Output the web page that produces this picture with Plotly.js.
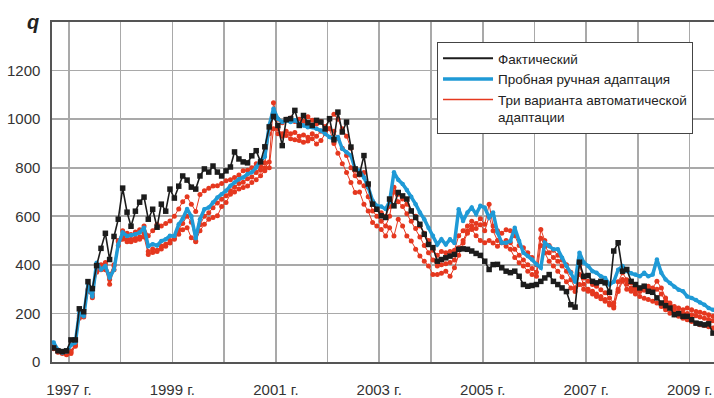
<!DOCTYPE html>
<html>
<head>
<meta charset="utf-8">
<script src="https://cdn.plot.ly/plotly-3.0.1.min.js"></script>
<style>
html,body{margin:0;padding:0;background:#ffffff;}
#chart{width:714px;height:398px;}
</style>
</head>
<body>
<div id="chart"></div>
<script>
// Monthly series, first month = August 1996
const startYear = 1996;
const startMonth = 8;
const gridYears = [1997,1998,1999,2000,2001,2002,2003,2004,2005,2006,2007,2008,2009];
const labelYears = [1997,1999,2001,2003,2005,2007,2009];
const seriesNames = ['Фактический', 'Пробная ручная адаптация', 'Три варианта автоматической<br>адаптации'];

const actual = [
  61, 58, 46, 43, 46,
  91, 91, 219, 207, 331, 302, 397, 468, 530, 422, 517, 588,
  716, 617, 559, 621, 658, 679, 588, 629, 555, 650, 621, 712,
  675, 724, 766, 749, 720, 712, 766, 795, 782, 807, 782, 766,
  787, 803, 865, 836, 824, 820, 849, 870, 824, 886, 968, 1011,
  974, 891, 998, 1002, 1036, 974, 1015, 985, 974, 995, 988, 960,
  1002, 915, 1029, 947, 988, 885, 795, 774, 850, 733, 650, 629,
  602, 595, 671, 643, 698, 684, 671, 622, 595, 567, 526, 484,
  471, 415, 422, 429, 436, 443, 464, 466, 464, 457, 447, 439,
  415, 381, 401, 402, 388, 374, 368, 374, 353, 319, 312, 315,
  319, 332, 346, 360, 332, 319, 305, 290, 236, 226, 411, 353,
  356, 332, 326, 332, 326, 287, 457, 491, 374, 381, 332, 319,
  305, 312, 291, 287, 264, 243, 232, 222, 195, 199, 188, 188,
  174, 160, 157, 153, 157, 119
];

const manual = [
  84, 80, 50, 39, 43,
  70, 80, 202, 188, 319, 270, 409, 381, 395, 347, 381, 484,
  533, 519, 522, 526, 533, 553, 477, 485, 480, 498, 505, 520,
  519, 567, 590, 630, 600, 510, 588, 629, 636, 657, 677, 691,
  705, 726, 739, 753, 760, 774, 781, 801, 830, 845, 974, 1043,
  1002, 988, 995, 988, 995, 981, 974, 967, 967, 960, 953, 940,
  926, 919, 926, 878, 864, 850, 795, 788, 760, 720, 664, 643,
  640, 630, 660, 781, 750, 733, 708, 680, 650, 616, 588, 553,
  520, 484, 505, 484, 505, 490, 629, 581, 616, 636, 609, 643,
  636, 595, 616, 533, 491, 491, 498, 553, 498, 450, 436, 422,
  402, 388, 491, 477, 464, 464, 429, 395, 367, 330, 450, 410,
  395, 374, 367, 353, 346, 319, 330, 380, 395, 375, 365, 360,
  353, 367, 353, 360, 422, 367, 340, 325, 310, 298, 291, 270,
  264, 255, 245, 236, 222, 215
];

const auto1 = [
  70, 65, 45, 40, 35,
  45, 75, 190, 195, 300, 280, 380, 400, 410, 360, 400, 500,
  540, 530, 525, 535, 545, 560, 520, 540, 567, 560, 570, 581,
  600, 630, 660, 680, 650, 620, 690, 705, 715, 725, 726, 735,
  746, 750, 760, 770, 788, 790, 800, 816, 790, 800, 824, 1067,
  1000, 985, 1000, 1005, 990, 1000, 990, 1010, 995, 980, 990, 970,
  1000, 1020, 1000, 960, 930, 880, 790, 770, 780, 720, 660, 630,
  615, 600, 640, 720, 691, 671, 650, 622, 600, 560, 530, 500,
  460, 440, 455, 450, 455, 460, 520, 540, 560, 580, 570, 590,
  567, 650, 560, 540, 530, 545, 540, 520, 480, 470, 450, 430,
  400, 546, 500, 480, 460, 440, 420, 400, 370, 335, 395, 346,
  332, 319, 312, 298, 285, 264, 243, 330, 367, 339, 326, 305,
  298, 312, 312, 305, 332, 305, 264, 243, 229, 222, 215, 222,
  215, 208, 205, 201, 195, 188
];

const auto2 = [
  65, 60, 42, 38, 32,
  40, 70, 185, 190, 295, 270, 375, 395, 400, 340, 395, 495,
  515, 505, 505, 510, 515, 530, 455, 465, 460, 478, 485, 500,
  505, 545, 570, 600, 575, 495, 565, 600, 615, 635, 655, 670,
  685, 705, 720, 735, 740, 755, 762, 780, 805, 820, 940, 1020,
  960, 940, 950, 940, 945, 930, 935, 925, 940, 930, 950, 945,
  960, 950, 920, 880, 850, 800, 767, 740, 726, 680, 622, 600,
  580, 560, 600, 700, 660, 640, 610, 580, 550, 515, 480, 450,
  420, 395, 400, 405, 410, 420, 470, 500, 540, 560, 550, 565,
  540, 600, 540, 500, 491, 500, 491, 464, 440, 420, 400, 385,
  370, 510, 477, 450, 430, 415, 395, 374, 339, 305, 360, 320,
  300, 291, 280, 270, 257, 243, 230, 300, 340, 320, 305, 295,
  290, 295, 300, 290, 300, 280, 250, 230, 215, 205, 200, 200,
  195, 190, 185, 180, 175, 170
];

const auto3 = [
  60, 55, 40, 35, 30,
  35, 65, 180, 185, 290, 265, 370, 380, 380, 320, 380, 480,
  505, 495, 495, 500, 505, 515, 443, 451, 455, 465, 477, 490,
  510, 526, 545, 553, 512, 498, 540, 567, 588, 595, 602, 640,
  657, 691, 700, 712, 719, 725, 739, 750, 767, 788, 800, 960,
  940, 930, 933, 919, 915, 912, 905, 910, 919, 898, 912, 940,
  960, 900, 860, 816, 780, 739, 698, 700, 650, 622, 574, 560,
  546, 519, 553, 519, 588, 560, 519, 498, 464, 436, 415, 395,
  360, 360, 365, 374, 353, 388, 440, 490, 530, 546, 520, 500,
  491, 500, 490, 477, 491, 477, 464, 430, 409, 395, 374, 360,
  353, 480, 450, 415, 395, 374, 350, 330, 305, 290, 319, 300,
  291, 280, 270, 260, 250, 235, 222, 290, 332, 300, 291, 280,
  270, 262, 257, 250, 243, 229, 215, 201, 195, 188, 180, 174,
  167, 160, 153, 150, 145, 140
];

const yTicks = [0, 200, 400, 600, 800, 1000, 1200];

function monthDates(n) {
  const out = [];
  for (let i = 0; i < n; i++) {
    const m0 = startMonth - 1 + i;
    const y = startYear + Math.floor(m0 / 12);
    const m = (m0 % 12) + 1;
    out.push(y + '-' + String(m).padStart(2, '0') + '-15');
  }
  return out;
}

const BLACK = '#1c1c1c';
const BLUE = '#1f9ad6';
const RED = '#e5381f';

function redTrace(vals) {
  return {
    x: monthDates(vals.length), y: vals, type: 'scatter', mode: 'lines+markers',
    line: {color: RED, width: 1}, marker: {symbol: 'circle', size: 5, color: RED},
    showlegend: false, hoverinfo: 'skip'
  };
}

const traces = [
  redTrace(auto3), redTrace(auto2), redTrace(auto1),
  {x: monthDates(manual.length), y: manual, type: 'scatter', mode: 'lines+markers',
   line: {color: BLUE, width: 3.5}, marker: {symbol: 'circle', size: 4.5, color: BLUE},
   showlegend: false, hoverinfo: 'skip'},
  {x: monthDates(actual.length), y: actual, type: 'scatter', mode: 'lines+markers',
   line: {color: BLACK, width: 1.6}, marker: {symbol: 'square', size: 5.5, color: BLACK},
   showlegend: false, hoverinfo: 'skip'},
  // legend entries (lines only)
  {x: [null], y: [null], type: 'scatter', mode: 'lines', name: seriesNames[0],
   line: {color: BLACK, width: 2}, legendrank: 1},
  {x: [null], y: [null], type: 'scatter', mode: 'lines', name: seriesNames[1],
   line: {color: BLUE, width: 3.5}, legendrank: 2},
  {x: [null], y: [null], type: 'scatter', mode: 'lines', name: seriesNames[2],
   line: {color: RED, width: 1.5}, legendrank: 3}
];

const tickFont = {family: 'Liberation Sans, Arial, sans-serif', size: 15, color: '#333333'};
const GRID = '#a9a9a9';

const layout = {
  width: 714, height: 398,
  margin: {l: 52, r: 0, t: 22, b: 36, pad: 0, autoexpand: false},
  paper_bgcolor: '#ffffff', plot_bgcolor: '#ffffff',
  xaxis: {
    type: 'date',
    range: ['1996-09-03', '2009-06-22'],
    tickvals: gridYears.map(y => y + '-01-01'),
    ticktext: gridYears.map(y => labelYears.includes(y) ? y + ' г.' : ''),
    showgrid: true, gridcolor: GRID, gridwidth: 1.6,
    showline: true, linecolor: '#555555', linewidth: 1.6, mirror: true,
    ticks: '', tickfont: tickFont, ticklabelstandoff: 13,
    zeroline: false, fixedrange: true
  },
  yaxis: {
    range: [0, 1400],
    tickvals: yTicks,
    showgrid: true, gridcolor: GRID, gridwidth: 1.6,
    showline: true, linecolor: '#555555', linewidth: 1.6,
    ticks: '', tickfont: tickFont, ticklabelstandoff: 7,
    zeroline: false, fixedrange: true
  },
  legend: {
    x: 0.5816, y: 0.941, xanchor: 'left', yanchor: 'top',
    bgcolor: '#ffffff', bordercolor: '#444444', borderwidth: 1,
    font: {family: 'Liberation Sans, Arial, sans-serif', size: 13.5, color: '#222222'},
    valign: 'top', itemwidth: 50, tracegroupgap: 0
  },
  annotations: [{
    text: '<b><i>q</i></b>', xref: 'paper', yref: 'paper', x: -0.029, y: 1.0,
    xanchor: 'center', yanchor: 'middle', showarrow: false,
    font: {family: 'Liberation Sans, Arial, sans-serif', size: 20, color: '#222222'}
  }],
  showlegend: true
};

Plotly.newPlot('chart', traces, layout, {displayModeBar: false, staticPlot: true});
</script>
</body>
</html>
